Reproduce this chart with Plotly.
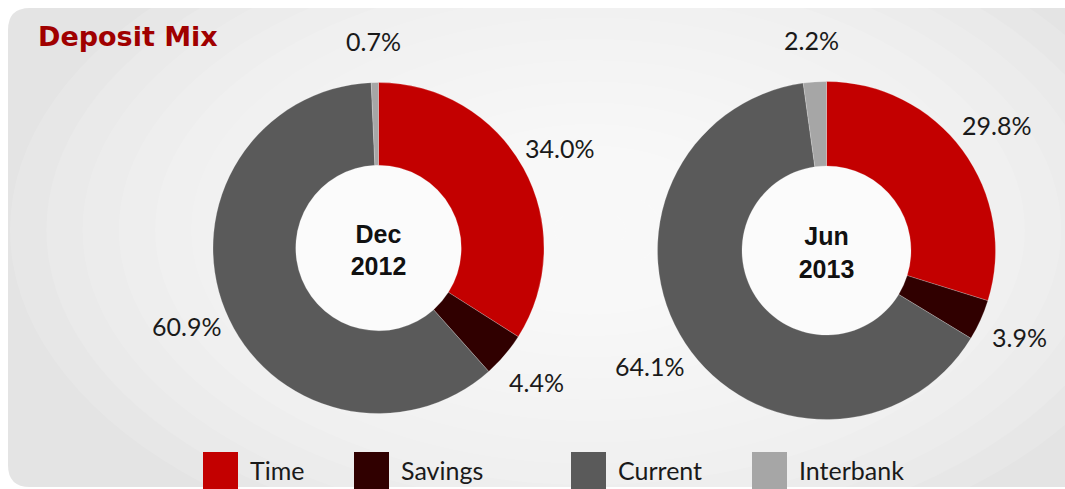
import math
import plotly.graph_objects as go

W, H = 1065, 489

categories = ["Time", "Savings", "Current", "Interbank"]
dec2012 = [34.0, 4.4, 60.9, 0.7]
jun2013 = [29.8, 3.9, 64.1, 2.2]
period_labels = ["Dec<br>2012", "Jun<br>2013"]
colors = ["#c30000", "#300000", "#5a5a5a", "#a6a6a6"]
title_text = "Deposit Mix"

# layout geometry (pixels)
donuts = [
    dict(values=dec2012, label=period_labels[0], cx=378.5, cy=248, r=165.5),
    dict(values=jun2013, label=period_labels[1], cx=826.5, cy=250.5, r=169),
]
legend_x = [203, 354, 571, 752]
LABEL_FACTOR = 1.25

def px(x):
    return x / W

def py(y):
    return 1 - y / H

fig = go.Figure()
annotations = []
shapes = []

# background panel (rounded left corners), plus soft radial highlight
rad = 22
x0, x1 = px(8), 1.02
yt, yb = py(8), py(487)
rx, ry = rad / W, rad / H
path = (f"M {x0+rx},{yt} L {x1},{yt} L {x1},{yb} L {x0+rx},{yb} "
        f"Q {x0},{yb} {x0},{yb+ry} L {x0},{yt-ry} Q {x0},{yt} {x0+rx},{yt} Z")
shapes.append(dict(type="path", path=path, xref="paper", yref="paper",
                   fillcolor="#e4e4e4", line=dict(width=0), layer="below"))
n = 16
for i in range(n):
    f = 1 - i / n
    rxe, rye = 580 * f, 340 * f
    cxg, cyg = 590, 230
    shapes.append(dict(type="circle", xref="paper", yref="paper",
                       x0=px(cxg - rxe), x1=px(cxg + rxe),
                       y0=py(cyg + rye), y1=py(cyg - rye),
                       fillcolor="rgba(255,255,255,0.12)", line=dict(width=0),
                       layer="below"))

for d in donuts:
    cx, cy, r = d["cx"], d["cy"], d["r"]
    # white disc inside the hole
    hr = r * 0.5
    fig.add_trace(go.Pie(values=[1], marker=dict(colors=["#fbfbfb"]),
                         textinfo="none", hoverinfo="skip", showlegend=False,
                         sort=False,
                         domain=dict(x=[px(cx - hr), px(cx + hr)],
                                     y=[py(cy + hr), py(cy - hr)])))
    fig.add_trace(go.Pie(
        labels=categories, values=d["values"], hole=0.5, sort=False,
        direction="clockwise", rotation=0,
        marker=dict(colors=colors, line=dict(color="rgba(255,255,255,0.35)", width=0.6)),
        textinfo="none", showlegend=False,
        title=dict(text="<b>" + d["label"] + "</b>", position="middle center",
                   font=dict(family="Liberation Sans", size=25, color="#111111")),
        domain=dict(x=[px(cx - r), px(cx + r)], y=[py(cy + r), py(cy - r)]),
    ))
    total = sum(d["values"])
    cum = 0
    for v in d["values"]:
        mid = (cum + v / 2) / total * 2 * math.pi
        cum += v
        lx = cx + LABEL_FACTOR * r * math.sin(mid)
        ly = cy - LABEL_FACTOR * r * math.cos(mid)
        annotations.append(dict(x=px(lx), y=py(ly), xref="paper", yref="paper",
                                text=f"{v:.1f}%", showarrow=False,
                                xanchor="center", yanchor="middle",
                                font=dict(family="Lato", size=25, color="#1a1a1a")))

# custom legend
for cat, col, lx in zip(categories, colors, legend_x):
    shapes.append(dict(type="rect", xref="paper", yref="paper",
                       x0=px(lx), x1=px(lx + 35), y0=py(489), y1=py(452),
                       fillcolor=col, line=dict(width=0), layer="above"))
    annotations.append(dict(x=px(lx + 45), y=py(470), xref="paper", yref="paper",
                            text=cat, showarrow=False, xanchor="left", yanchor="middle",
                            font=dict(family="Lato", size=25, color="#1a1a1a")))

annotations.append(dict(x=px(36), y=py(36), xref="paper", yref="paper",
                        text="<b>" + title_text + "</b>", showarrow=False,
                        xanchor="left", yanchor="middle",
                        font=dict(family="DejaVu Sans", size=27, color="#a00000")))

fig.update_layout(
    width=W, height=H, margin=dict(l=0, r=0, t=0, b=0),
    paper_bgcolor="white", plot_bgcolor="white",
    shapes=shapes, annotations=annotations, showlegend=False,
)

fig.write_html("out.html", config={"displayModeBar": False},
               post_script="document.body.style.margin='0';document.body.style.overflow='hidden';")
